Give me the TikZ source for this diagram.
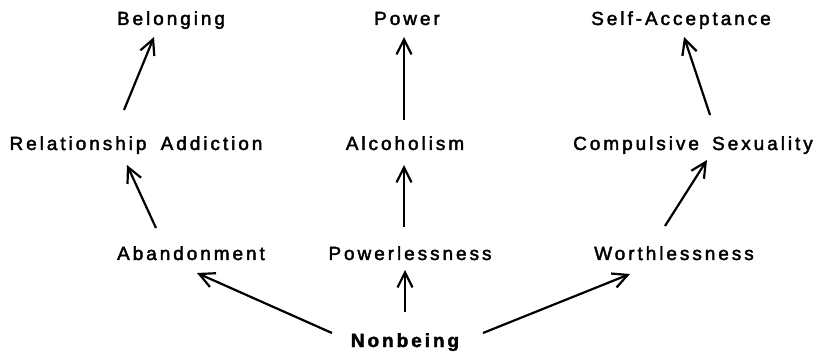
\documentclass[tikz,border=0pt]{standalone}
\usepackage{fontspec}
\setmainfont{Liberation Sans}[LetterSpace=15.5,FakeBold=2.2]
\usetikzlibrary{arrows.meta}
\begin{document}
\begin{tikzpicture}[x=1pt,y=-1pt,
  lbl/.style={anchor=base,inner sep=0pt,font=\fontsize{19}{21}\selectfont},
  arr/.style={line width=2.2pt,-{Straight Barb[length=15pt,width=15pt]}}]
\useasboundingbox (0,0) rectangle (817,358);
% top row
\node[lbl] (bel) at (171,25) {Belonging};
\node[lbl] (pow) at (407,25) {Power};
\node[lbl] (self) at (681,25) {Self-Acceptance};
% middle row
\node[lbl] (rel) at (136,150) {Relationship\hspace{6pt} Addiction};
\node[lbl] (alc) at (405,150) {Alcoholism};
\node[lbl] (comp) at (693,150) {Compulsive\hspace{5pt} Sexuality};
% bottom row
\node[lbl] (aban) at (191,260) {Abandonment};
\node[lbl] (powl) at (410,260) {Powerlessness};
\node[lbl] (worth) at (674,260) {Worthlessness};
\node[lbl,font=\fontsize{19}{21}\selectfont\bfseries] (non) at (405,347) {Nonbeing};
% connector ends
\coordinate (relT) at (124,110);  \coordinate (belB) at (154,37);
\coordinate (alcT) at (404,120);  \coordinate (powB) at (404,37);
\coordinate (compT) at (710,115); \coordinate (selfB) at (684,37);
\coordinate (abanT) at (156,228); \coordinate (relB) at (127,165);
\coordinate (powlT) at (404,227); \coordinate (alcB) at (404,165);
\coordinate (worthT) at (665,226); \coordinate (compB) at (707,160);
\coordinate (nonL) at (332,333);  \coordinate (abanB) at (197,273);
\coordinate (nonM) at (405,312);  \coordinate (powlB) at (405,270);
\coordinate (nonR) at (483,333);  \coordinate (worthB) at (630,274);
\draw[arr] (relT) -- (belB);
\draw[arr] (alcT) -- (powB);
\draw[arr] (compT) -- (selfB);
\draw[arr] (abanT) -- (relB);
\draw[arr] (powlT) -- (alcB);
\draw[arr] (worthT) -- (compB);
\draw[arr] (nonL) -- (abanB);
\draw[arr] (nonM) -- (powlB);
\draw[arr] (nonR) -- (worthB);
\end{tikzpicture}
\end{document}
